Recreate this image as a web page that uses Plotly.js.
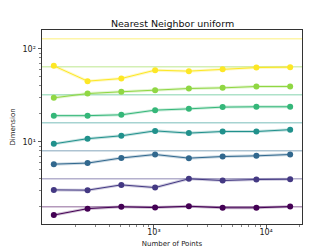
<!DOCTYPE html>
<html><head><meta charset="utf-8">
<script src="https://cdn.plot.ly/plotly-3.0.1.min.js"></script>
<style>html,body{margin:0;padding:0;background:#fff}#chart{width:335px;height:252px}</style>
</head><body><div id="chart"></div>
<script>
const nPoints = [128, 256, 512, 1024, 2048, 4096, 8192, 16384];
const trueDims = [2, 4, 8, 16, 32, 64, 128];
const colors = ['#440154', '#443983', '#31688e', '#21918c', '#35b779', '#90d743', '#fde725'];
const est2   = [1.63, 1.91, 2.0, 1.96, 2.03, 1.95, 1.95, 2.01];
const est4   = [3.04, 3.02, 3.44, 3.22, 4.0, 3.83, 3.93, 3.96];
const est8   = [5.75, 5.9, 6.7, 7.3, 6.67, 6.94, 7.06, 7.3];
const est16  = [9.5, 10.8, 11.6, 13.1, 12.4, 12.9, 12.9, 13.5];
const est32  = [19.1, 19.1, 19.5, 21.9, 22.6, 23.6, 23.8, 23.8];
const est64  = [29.7, 33.0, 34.5, 35.9, 37.4, 38.0, 39.3, 39.3];
const est128 = [65.6, 44.9, 47.9, 58.9, 57.5, 60.4, 62.8, 63.5];
const estimates = [est2, est4, est8, est16, est32, est64, est128];
const xTickVals = [1000, 10000];
const xTickText = ['10³', '10⁴'];
const yTickVals = [10, 100];
const yTickText = ['10¹', '10²'];

const traces = [];
trueDims.forEach((d, i) => {
  traces.push({x: [100, 100000], y: [d, d], mode: 'lines', line: {color: colors[i], width: 1.5}, opacity: 0.4, hoverinfo: 'skip', showlegend: false});
});
estimates.forEach((ys, i) => {
  traces.push({x: nPoints, y: ys, mode: 'lines', line: {color: colors[i], width: 3}, opacity: 0.25, showlegend: false});
  traces.push({x: nPoints, y: ys, mode: 'lines+markers', line: {color: colors[i], width: 1}, marker: {color: colors[i], size: 6}, showlegend: false});
});

const minorX = [];
[100, 1000, 10000].forEach(b => { for (let k = 2; k <= 9; k++) minorX.push(b * k); });
const minorY = [];
[1, 10, 100].forEach(b => { for (let k = 2; k <= 9; k++) minorY.push(b * k); });

const axisCommon = {showline: true, mirror: true, linecolor: '#333', linewidth: 1, ticks: 'outside', ticklen: 3.5, tickwidth: 0.8, tickcolor: '#333', showgrid: false, zeroline: false, tickfont: {family: 'DejaVu Sans', size: 8, color: '#222'}};

const layout = {
  width: 335, height: 252,
  margin: {l: 42, r: 33, t: 30, b: 28},
  paper_bgcolor: '#fff', plot_bgcolor: '#fff',
  title: {text: 'Nearest Neighbor uniform', font: {family: 'DejaVu Sans', size: 9.5, color: '#111'}, x: 0.515, xanchor: 'center', y: 0.905, yanchor: 'middle'},
  xaxis: Object.assign({}, axisCommon, {type: 'log', range: [2.002, 4.32], tickmode: 'array', tickvals: xTickVals, ticktext: xTickText, ticklabelstandoff: -3,
    minor: {tickmode: 'array', tickvals: minorX, ticks: 'outside', ticklen: 2, tickcolor: '#333', tickwidth: 0.6},
    title: {text: 'Number of Points', font: {family: 'DejaVu Sans', size: 7, color: '#222'}, standoff: 5}}),
  yaxis: Object.assign({}, axisCommon, {type: 'log', range: [0.116, 2.202], tickmode: 'array', tickvals: yTickVals, ticktext: yTickText,
    minor: {tickmode: 'array', tickvals: minorY, ticks: 'outside', ticklen: 2, tickcolor: '#333', tickwidth: 0.6},
    title: {text: 'Dimension', font: {family: 'DejaVu Sans', size: 7, color: '#222'}, standoff: 6}}),
  showlegend: false
};
Plotly.newPlot('chart', traces, layout, {staticPlot: true, displayModeBar: false});
</script></body></html>
